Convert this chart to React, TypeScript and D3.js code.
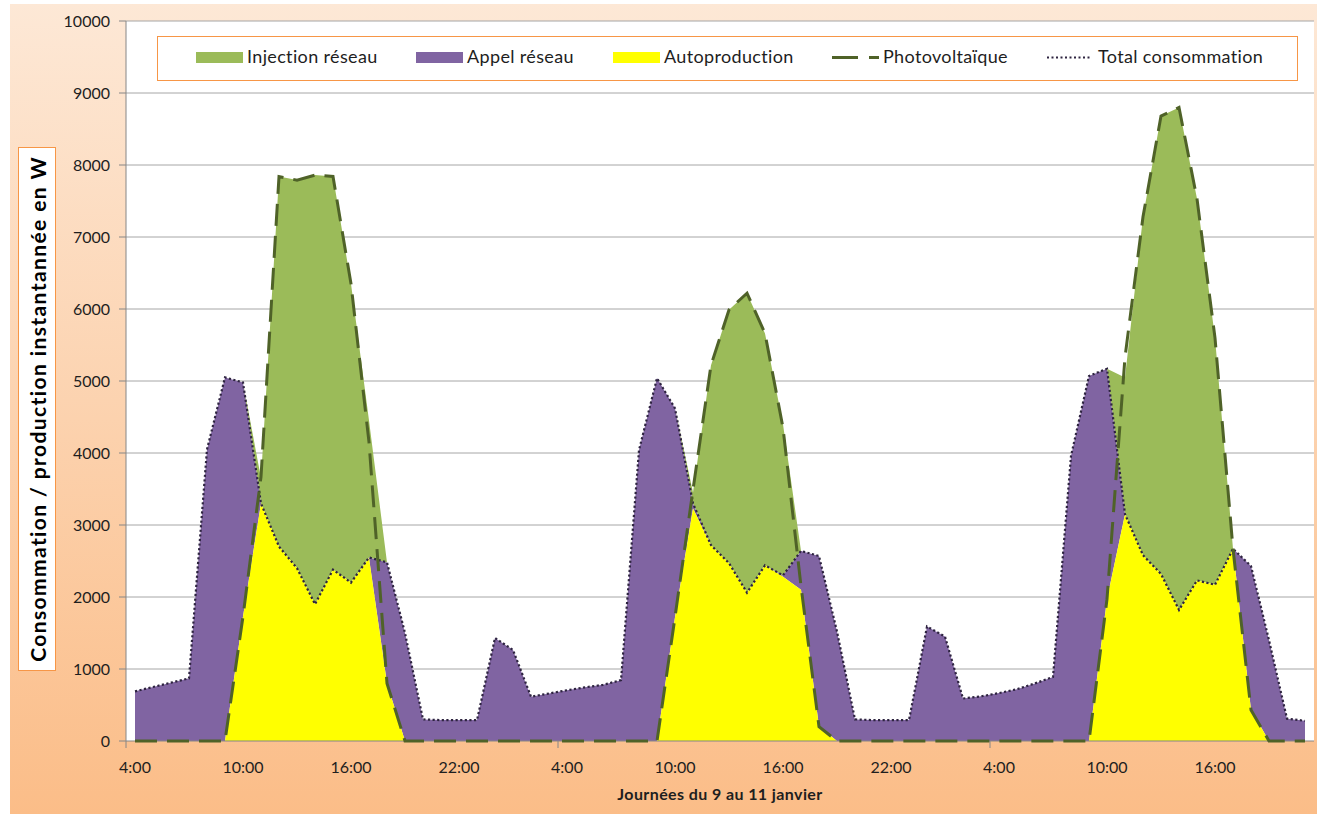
import React from 'react';
import * as d3 from 'd3';

// hourly values, from 4:00 on the 9th to 21:00 on the 11th
const totalConsommation = [
  690, 750, 810, 870, 4050, 5050, 4980, 3300, 2700, 2400, 1900, 2380, 2200, 2550, 2480, 1500, 300, 290, 290, 290,
  1430, 1265, 615, 660, 705, 745, 780, 845, 4040, 5040, 4620, 3300, 2720, 2470, 2060, 2440, 2300, 2640, 2570, 1520,
  300, 290, 290, 290, 1590, 1450, 590, 620, 665, 720, 800, 890, 3960, 5070, 5170, 3150, 2580, 2320, 1820, 2230,
  2170, 2670, 2430, 1400, 310, 280,
];

const photovoltaique = [
  0, 0, 0, 0, 0, 0, 1730, 3670, 7840, 7790, 7860, 7840, 6350, 4150, 800, 0, 0, 0, 0, 0,
  0, 0, 0, 0, 0, 0, 0, 0, 0, 0, 1720, 3490, 5220, 5990, 6220, 5660, 4350, 2150, 200, 0,
  0, 0, 0, 0, 0, 0, 0, 0, 0, 0, 0, 0, 0, 0, 1970, 5330, 7280, 8680, 8800, 7530,
  5600, 2670, 430, 0, 0, 0,
];

const autoproduction = [
  0, 0, 0, 0, 0, 0, 1730, 3300, 2700, 2400, 1900, 2380, 2200, 2540, 800, 0, 0, 0, 0, 0,
  0, 0, 0, 0, 0, 0, 0, 0, 0, 0, 1720, 3230, 2720, 2470, 2060, 2440, 2280, 2100, 200, 0,
  0, 0, 0, 0, 0, 0, 0, 0, 0, 0, 0, 0, 0, 0, 1970, 3150, 2580, 2320, 1820, 2230,
  2170, 2670, 430, 0, 0, 0,
];

// green band, stacked above the consumption
const injectionReseau = [
  0, 0, 0, 0, 0, 0, 0, 350, 5140, 5390, 5960, 5460, 4150, 1900, 0, 0, 0, 0, 0, 0,
  0, 0, 0, 0, 0, 0, 0, 0, 0, 0, 0, 150, 2500, 3520, 4160, 3220, 2100, 0, 0, 0,
  0, 0, 0, 0, 0, 0, 0, 0, 0, 0, 0, 0, 0, 0, 0, 1900, 4700, 6360, 6980, 5300,
  3430, 0, 0, 0, 0, 0,
];

const xTickLabels = ['4:00', '10:00', '16:00', '22:00', '4:00', '10:00', '16:00', '22:00', '4:00', '10:00', '16:00'];
const yTicks = [0, 1000, 2000, 3000, 4000, 5000, 6000, 7000, 8000, 9000, 10000];
const legendLabels = ['Injection réseau', 'Appel réseau', 'Autoproduction', 'Photovoltaïque', 'Total consommation'];

const COLORS = {
  injection: '#9bbb59',
  appel: '#8064a2',
  auto: '#ffff00',
  pv: '#4f6228',
  conso: '#2e2440',
  grid: '#a6a6a6',
  axis: '#868686',
  orange: '#f79646',
  text: '#1e1e1e',
};

const FONT = "Lato, 'Open Sans', sans-serif";

interface Row {
  i: number;
  conso: number;
  pv: number;
  auto: number;
  inj: number;
}

const plot = { left: 126, right: 1314, top: 21, bottom: 741 };

const App: React.FC = () => {
  const rows: Row[] = totalConsommation.map((c, i) => ({
    i,
    conso: c,
    pv: photovoltaique[i],
    auto: autoproduction[i],
    inj: injectionReseau[i],
  }));

  const x = d3.scaleLinear().domain([-0.5, rows.length - 0.5]).range([plot.left, plot.right]);
  const y = d3.scaleLinear().domain([0, 10000]).range([plot.bottom, plot.top]);

  const yellowArea = d3.area<Row>().x((d) => x(d.i)).y0(y(0)).y1((d) => y(d.auto));
  const purpleArea = d3.area<Row>().x((d) => x(d.i)).y0((d) => y(d.auto)).y1((d) => y(d.conso));
  const greenArea = d3.area<Row>().x((d) => x(d.i)).y0((d) => y(d.conso)).y1((d) => y(d.conso + d.inj));
  const pvLine = d3.line<Row>().x((d) => x(d.i)).y((d) => y(d.pv));
  const consoLine = d3.line<Row>().x((d) => x(d.i)).y((d) => y(d.conso));

  // one label every 6 hours, one tick every 24 categories
  const labelIdx = xTickLabels.map((_, k) => k * 6);
  const tickPos = d3.range(-0.5, rows.length, 24);

  const legendX = [196, 416, 613, 832, 1047];

  return (
    <svg width={1317} height={816} style={{ position: 'absolute', left: 0, top: 0 }} fontFamily={FONT}>
      <defs>
        <linearGradient id="bg" x1="0" x2="0" y1="0" y2="1">
          <stop offset="0%" stopColor="#fde8d6" />
          <stop offset="100%" stopColor="#fbbd88" />
        </linearGradient>
      </defs>
      <rect x={0} y={0} width={1317} height={816} fill="#fff" />
      <rect x={10} y={4} width={1307} height={810} fill="url(#bg)" />
      <rect x={plot.left} y={plot.top} width={plot.right - plot.left} height={plot.bottom - plot.top} fill="#fff" />

      {yTicks.map((t) => (
        <g key={t}>
          {t > 0 && <line x1={plot.left} x2={plot.right} y1={y(t)} y2={y(t)} stroke={COLORS.grid} strokeWidth={1} />}
          <line x1={plot.left - 7} x2={plot.left} y1={y(t)} y2={y(t)} stroke={COLORS.axis} />
          <text x={110} y={y(t)} dy="0.35em" textAnchor="end" fontSize={16} fill={COLORS.text}>
            {t}
          </text>
        </g>
      ))}

      <path d={greenArea(rows) ?? ''} fill={COLORS.injection} />
      <path d={purpleArea(rows) ?? ''} fill={COLORS.appel} />
      <path d={yellowArea(rows) ?? ''} fill={COLORS.auto} />

      <line x1={plot.left} x2={plot.left} y1={plot.top} y2={plot.bottom} stroke={COLORS.axis} />
      <line x1={plot.left} x2={plot.right} y1={plot.bottom} y2={plot.bottom} stroke={COLORS.axis} />
      {tickPos.map((t) => (
        <line key={t} x1={x(t)} x2={x(t)} y1={plot.bottom} y2={plot.bottom + 7} stroke={COLORS.axis} />
      ))}

      <path d={consoLine(rows) ?? ''} fill="none" stroke={COLORS.conso} strokeWidth={2.2} strokeDasharray="2.2 2.4" />
      <path d={pvLine(rows) ?? ''} fill="none" stroke={COLORS.pv} strokeWidth={3} strokeDasharray="22 10" />

      {xTickLabels.map((lab, k) => (
        <text key={k} x={x(labelIdx[k])} y={773} textAnchor="middle" fontSize={16} fill={COLORS.text}>
          {lab}
        </text>
      ))}
      <text x={720} y={800} textAnchor="middle" fontSize={16} fontWeight="bold" letterSpacing={0.4} fill={COLORS.text}>
        Journées du 9 au 11 janvier
      </text>

      <rect x={18.5} y={147.5} width={37} height={523} fill="#fff" stroke={COLORS.orange} />
      <text
        transform={`translate(46,409) rotate(-90)`}
        textAnchor="middle"
        fontSize={21}
        fontWeight="bold"
        letterSpacing={1.4}
        fill="#000"
      >
        Consommation / production instantannée en W
      </text>

      <rect x={157.5} y={36.5} width={1140} height={44} fill="#fff" stroke={COLORS.orange} />
      {legendLabels.map((lab, k) => {
        const lx = legendX[k];
        let mark: React.ReactNode;
        if (k < 3) {
          const fill = [COLORS.injection, COLORS.appel, COLORS.auto][k];
          mark = <rect x={lx} y={52} width={47} height={11} fill={fill} />;
        } else if (k === 3) {
          mark = <line x1={lx} x2={lx + 47} y1={57.5} y2={57.5} stroke={COLORS.pv} strokeWidth={3} strokeDasharray="26 11" />;
        } else {
          mark = <line x1={lx} x2={lx + 45} y1={57.5} y2={57.5} stroke={COLORS.conso} strokeWidth={2} strokeDasharray="2 2.5" />;
        }
        return (
          <g key={lab}>
            {mark}
            <text x={lx + 51} y={63} fontSize={18} letterSpacing={0.35} fill={COLORS.text}>
              {lab}
            </text>
          </g>
        );
      })}
    </svg>
  );
};

export default App;
